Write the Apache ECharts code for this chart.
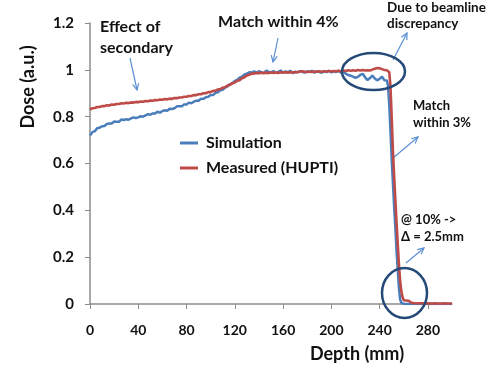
<!DOCTYPE html>
<html><head><meta charset="utf-8">
<script src="https://cdn.jsdelivr.net/npm/echarts@6/dist/echarts.min.js"></script>
<style>html,body{margin:0;padding:0;background:#fff}#c{width:489px;height:384px}</style>
</head><body><div id="c"></div>
<script>
// Depth sample positions (mm)
const depth = [0,2,4,6,8,10,12,14,16,18,20,22,24,26,28,30,32,34,36,38,40,42,44,46,48,50,52,54,56,58,60,62,64,66,68,70,72,74,76,78,80,82,84,86,88,90,92,94,96,98,100,102,104,106,108,110,112,114,116,118,120,122,124,126,128,130,132,134,136,138,140,142,144,146,148,150,152,154,156,158,160,162,164,166,168,170,172,174,176,178,180,182,184,186,188,190,192,194,196,198,200,202,204,206,208,210,212,214,216,218,220,222,224,226,228,230,232,234,236,238,240,
241,242,243,244,245,246,247,248,249,250,251,252,253,254,255,256,257,258,259,260,261,262,263,264,265,266,267,268,269,270,
272,274,276,278,280,282,284,286,288,290,292,294,296,298,300];

const simulation = [0.720,0.734,0.738,0.751,0.753,0.759,0.760,0.769,0.771,0.771,0.779,0.778,0.778,0.788,0.786,0.789,0.787,0.793,0.797,0.794,0.797,0.802,0.800,0.805,0.811,0.808,0.814,0.814,0.821,0.817,0.824,0.827,0.825,0.834,0.833,0.836,0.844,0.844,0.844,0.852,0.852,0.860,0.857,0.864,0.868,0.868,0.877,0.876,0.883,0.885,0.893,0.892,0.902,0.904,0.913,0.915,0.924,0.929,0.939,0.942,0.953,0.957,0.967,0.971,0.980,0.983,0.990,0.989,0.993,
0.988,0.994,0.990,0.986,0.996,0.992,0.989,0.995,0.987,0.991,0.997,0.988,0.993,0.990,0.996,0.986,0.992,0.989,0.995,0.991,0.988,0.994,0.990,0.996,0.988,0.993,0.991,0.987,0.995,0.990,0.996,0.989,0.994,0.991,0.996,0.988,0.993,
0.983,0.978,0.975,0.971,0.966,0.970,0.978,0.983,0.968,0.956,0.965,0.975,0.963,0.955,0.962,
0.966,0.970,0.966,0.956,0.950,0.955,0.930,0.850,0.740,0.620,0.520,0.420,0.330,0.230,0.150,0.070,0.020,0.005,0.002,0.001,0,0,0,0,0,0,0,0,0,0,
0,0,0,0,0,0,0,0,0,0,0,0,0,0,0];

const measured = [0.830,0.836,0.837,0.841,0.841,0.845,0.845,0.849,0.848,0.852,0.851,0.854,0.854,0.857,0.856,0.859,0.858,0.861,0.860,0.863,0.862,0.865,0.864,0.867,0.866,0.869,0.868,0.871,0.870,0.873,0.872,0.875,0.874,0.877,0.876,0.880,0.879,0.882,0.882,0.885,0.885,0.888,0.888,0.892,0.892,0.896,0.896,0.900,0.900,0.905,0.905,0.910,0.911,0.916,0.918,0.924,0.926,0.933,0.936,0.943,0.946,0.953,0.956,0.964,0.968,0.976,0.979,0.984,0.984,0.987,0.985,0.988,0.986,0.988,0.986,0.989,0.987,0.989,0.987,0.990,0.988,0.990,0.988,0.990,0.989,0.991,0.990,0.993,0.994,0.992,0.991,0.993,0.991,0.993,0.992,0.994,0.992,0.994,0.993,0.995,0.993,0.995,0.994,0.996,0.994,0.997,0.995,0.998,0.996,0.998,0.996,0.999,0.997,0.999,0.997,0.998,0.997,1.001,1.005,1.008,1.007,
1.006,1.003,1.000,0.999,0.998,0.998,0.996,0.990,0.930,0.800,0.660,0.550,0.450,0.350,0.260,0.170,0.100,0.055,0.030,0.016,0.012,0.015,0.011,0.014,0.008,0.006,0.005,0.004,0.004,0.003,
0.003,0.003,0.003,0.002,0.003,0.002,0.002,0.003,0.002,0.002,0.002,0.003,0.002,0.002,0.002];

const xTicks = [0,40,80,120,160,200,240,280];
const seriesNames = ['Simulation','Measured (HUPTI)'];

const chart = echarts.init(document.getElementById('c'), null, {renderer:'canvas'});
const FONT = 'Lato, "Open Sans", sans-serif';
const ARROW = '#5b8fd3';
const NAVY = '#254a78';

function arrow(x1,y1,x2,y2){
  const a = Math.atan2(y2-y1,x2-x1), L = 7, s = 0.45;
  return [
    {type:'line',shape:{x1,y1,x2,y2},style:{stroke:ARROW,lineWidth:1.2}},
    {type:'polyline',shape:{points:[[x2-L*Math.cos(a-s),y2-L*Math.sin(a-s)],[x2,y2],[x2-L*Math.cos(a+s),y2-L*Math.sin(a+s)]]},style:{stroke:ARROW,lineWidth:1.2,fill:null}}
  ];
}
function txt(x,y,t,size,lh){
  return {type:'text',x,y,style:{text:t,font:'bold '+size+'px '+FONT,fill:'#111',lineHeight:lh}};
}

chart.setOption({
  animation:false,
  grid:{left:90,right:37,top:23,bottom:80},
  legend:{
    orient:'vertical',left:175,top:129,itemGap:7,itemWidth:18,itemHeight:3,icon:'rect',
    textStyle:{fontFamily:FONT,fontWeight:'bold',fontSize:16,lineHeight:18,color:'#111',padding:[0,0,0,3]},
    data:seriesNames
  },
  xAxis:{
    type:'value',min:0,max:300,
    axisLine:{lineStyle:{color:'#8c8c8c',width:1.5}},
    axisTick:{show:true,length:5,lineStyle:{color:'#8c8c8c'},customValues:xTicks},
    axisLabel:{customValues:xTicks,margin:19,fontFamily:FONT,fontWeight:'bold',fontSize:14,color:'#111'},
    splitLine:{show:false}
  },
  yAxis:{
    type:'value',min:0,max:1.2,interval:0.2,
    axisLine:{show:true,lineStyle:{color:'#8c8c8c',width:1.5}},
    axisTick:{show:true,length:5,lineStyle:{color:'#8c8c8c'}},
    axisLabel:{margin:16,fontFamily:FONT,fontWeight:'bold',fontSize:15,color:'#111'},
    splitLine:{show:false}
  },
  series:[
    {name:seriesNames[0],type:'line',showSymbol:false,symbol:'none',color:'#4a7ebb',
     lineStyle:{width:2.5,color:'#4a7ebb'},data:depth.map((d,i)=>[d,simulation[i]])},
    {name:seriesNames[1],type:'line',showSymbol:false,symbol:'none',color:'#be4b48',
     lineStyle:{width:2.6,color:'#be4b48'},data:depth.map((d,i)=>[d,measured[i]])}
  ],
  graphic:[
    {type:'text',x:28,y:87,rotation:Math.PI/2,style:{text:'Dose (a.u.)',font:'bold 18px '+FONT,fill:'#111',align:'center',verticalAlign:'middle'}},
    {type:'text',x:357,y:354,style:{text:'Depth (mm)',font:'bold 18px '+FONT,fill:'#111',align:'center',verticalAlign:'middle'}},
    txt(100,16,'Effect of\nsecondary',16,21),
    txt(218,13,'Match within 4%',16,18),
    txt(387,0,'Due to beamline\ndiscrepancy',13.5,16),
    txt(413,97,'Match\nwithin 3%',13,17),
    txt(401,211,'@ 10% ->\nΔ = 2.5mm',13,17),
    {type:'ellipse',shape:{cx:373.5,cy:71.5,rx:31.5,ry:18.5},style:{stroke:NAVY,lineWidth:2.5,fill:null},z:100},
    {type:'ellipse',shape:{cx:404.5,cy:293,rx:22.5,ry:25},style:{stroke:NAVY,lineWidth:2.5,fill:null},z:100},
    ...arrow(130,58,137,90),
    ...arrow(278,38,273,62),
    ...arrow(393,60,407,33),
    ...arrow(393,158,418,137),
    ...arrow(406,263,424,248)
  ]
});
</script></body></html>
